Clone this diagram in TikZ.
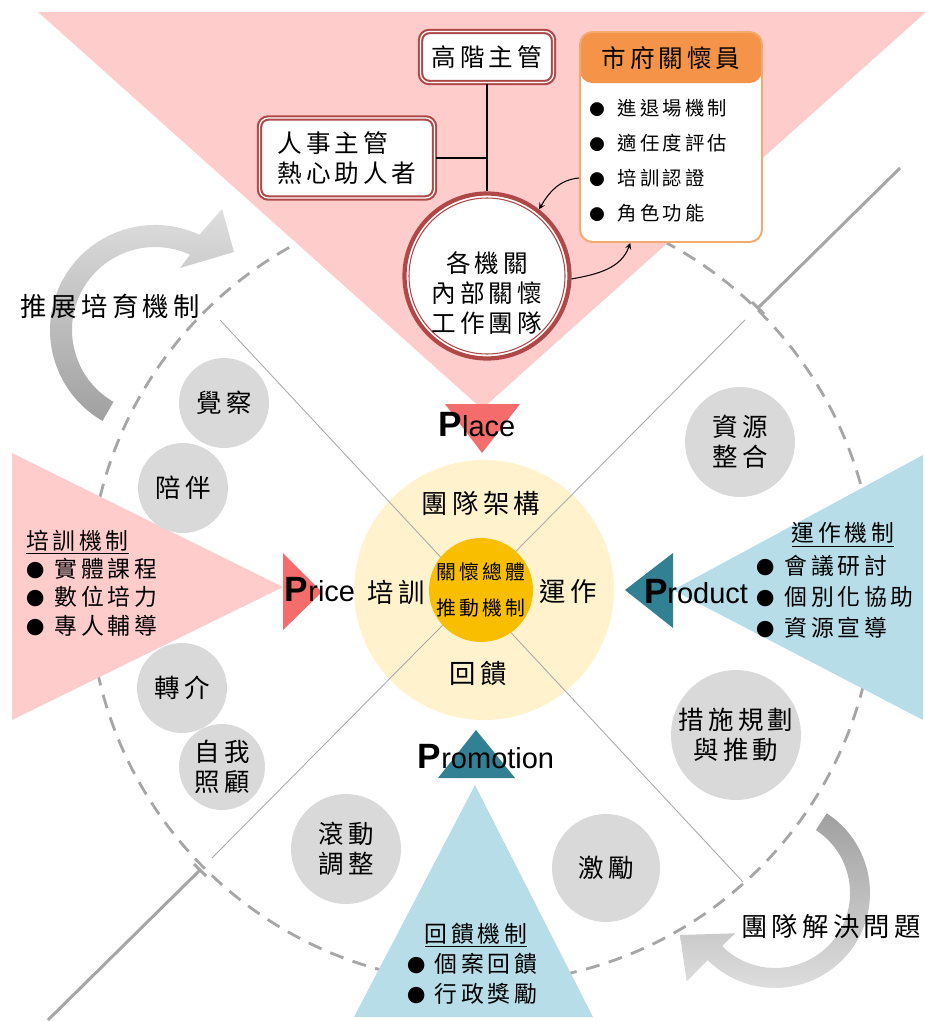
\documentclass[tikz,border=0pt]{standalone}
\usepackage{fontspec}
\setmainfont{Liberation Sans}
\newfontfamily\cjk[LetterSpace=16]{Noto Sans CJK TC}

\definecolor{pinkbg}{RGB}{255,204,204}
\definecolor{placered}{RGB}{244,108,108}
\definecolor{skyblue}{RGB}{183,221,232}
\definecolor{tealdark}{RGB}{49,128,148}
\definecolor{hubyellow}{RGB}{255,242,204}
\definecolor{coregold}{RGB}{250,190,0}
\definecolor{bubgray}{RGB}{217,217,217}
\definecolor{dashgray}{RGB}{166,166,166}
\definecolor{linegray}{RGB}{170,170,170}
\definecolor{boxred}{RGB}{176,72,72}
\definecolor{carehdr}{RGB}{245,148,72}
\definecolor{careline}{RGB}{242,170,110}
\definecolor{arrowdark}{RGB}{160,160,160}
\definecolor{arrowlight}{RGB}{222,222,222}

\newcommand{\Pw}[1]{{\fontsize{20}{20}\selectfont\bfseries P}#1}
\newcommand{\bul}[2][0.45em]{\scalebox{0.8}{●}\hspace{#1}#2}

\tikzset{
  bub/.style={circle, fill=bubgray, inner sep=0pt, align=center, font=\cjk\fontsize{14.5}{17}\selectfont},
  pword/.style={inner sep=0pt, font=\fontsize{16.5}{18}\selectfont},
  cjklab/.style={inner sep=0pt, align=center, font=\cjk\fontsize{15}{17}\selectfont},
  listtxt/.style={inner sep=0pt, align=left, font=\cjk\fontsize{13}{16.2}\selectfont},
  redbox/.style={rectangle, rounded corners=5pt, draw=boxred, double=white, line width=1.2pt, double distance=0.7pt, fill=white, inner sep=0pt, font=\cjk\fontsize{14}{17}\selectfont},
  diag/.style={draw=linegray, line width=0.5pt},
  outline/.style={draw=dashgray, line width=1.7pt},
}

\begin{document}
\begin{tikzpicture}[x=0.02cm, y=-0.02cm]
\useasboundingbox (0,0) rectangle (925,1021);

\draw[dashgray, line width=1.6pt, dash pattern=on 8pt off 5.5pt] (482,590) circle[radius=393];
\shade[top color=arrowlight, bottom color=arrowdark] (102.5,420.9) arc[start angle=120, end angle=295, radius=105] -- (222,209) -- (234,252) -- (180,268) -- (190.1,254.8) arc[start angle=295, end angle=120, radius=83] -- cycle;
\shade[top color=arrowdark, bottom color=arrowlight] (826.7,813.3) arc[start angle=-57, end angle=135, radius=95] -- (686.6,981.4) -- (680,935) -- (735.3,933.3) -- (722,946) arc[start angle=135, end angle=-57, radius=75] -- cycle;

\fill[pinkbg] (38,12) -- (926,12) -- (482,409) -- cycle;
\fill[pinkbg] (12,453) -- (283,587) -- (12,720) -- cycle;
\fill[skyblue] (923,455) -- (673,590) -- (923,720) -- cycle;
\fill[skyblue] (354,1017) -- (475,785) -- (593,1017) -- cycle;
\fill[placered] (445,404) -- (520,404) -- (482,453) -- cycle;
\fill[placered] (283,553) -- (322,592) -- (283,630) -- cycle;
\fill[tealdark] (673,553) -- (625,590) -- (673,628) -- cycle;
\fill[tealdark] (438,778) -- (476,730) -- (515,778) -- cycle;

\node[circle, fill=hubyellow, minimum size=5.2cm] (hub) at (484,590) {};
\draw[diag] (220,320) -- (743,882);
\draw[diag] (745,320) -- (212,858);
\draw[outline] (758,308) -- (900,168);
\draw[outline] (752,302) -- (764,314);
\draw[outline] (200,870) -- (48,1020);
\draw[outline] (194,864) -- (206,876);
\node[circle, fill=coregold, minimum size=1.88cm, inner sep=0pt, align=center, font=\cjk\fontsize{11.3}{20.5}\selectfont] (core) at (481,590) {關懷總體\\推動機制};

\node[cjklab] (frame) at (481,503) {團隊架構};
\node[cjklab] (train) at (396,592) {培訓};
\node[cjklab] (oper) at (568,591) {運作};
\node[cjklab] (feed) at (478,673) {回饋};

\node[pword] (place) at (477,425) {\Pw{lace}};
\node[pword] (price) at (320,590) {\Pw{rice}};
\node[pword] (product) at (696,592) {\Pw{roduct}};
\node[pword] (promo) at (486,757) {\Pw{romotion}};

\node[bub, minimum size=1.8cm] (aware) at (224,403) {覺察};
\node[bub, minimum size=1.8cm] (accomp) at (183,488) {陪伴};
\node[bub, minimum size=1.8cm] (refer) at (182,688) {轉介};
\node[bub, minimum size=1.72cm] (selfcare) at (222,767) {自我\\照顧};
\node[bub, minimum size=2.2cm] (rolling) at (346,849) {滾動\\調整};
\node[bub, minimum size=2.16cm] (reward) at (606,868) {激勵};
\node[bub, minimum size=2.2cm] (resource) at (740,442) {資源\\整合};
\node[bub, minimum size=2.6cm] (measure) at (736,735) {措施規劃\\與推動};

\node[listtxt, anchor=west] (trainlist) at (26,583) {\underline{培訓機制}\\\bul{實體課程}\\\bul{數位培力}\\\bul{專人輔導}};
\node[listtxt] (opstitle) at (843,535) {\underline{運作機制}};
\node[listtxt, anchor=west, font=\cjk\fontsize{13}{17.6}\selectfont] (opslist) at (756,597) {\bul{會議研討}\\\bul{個別化協助}\\\bul{資源宣導}};
\node[listtxt] (fbtitle) at (476,935) {\underline{回饋機制}};
\node[listtxt, anchor=west, font=\cjk\fontsize{13}{17}\selectfont] (fblist) at (407,979) {\bul[0.4em]{個案回饋}\\\bul[0.4em]{行政獎勵}};

\node[cjklab] (grow) at (110,306) {推展培育機制};
\node[cjklab] (solve) at (831,927) {團隊解決問題};

\node[redbox, minimum width=2.66cm, minimum height=1.02cm] (senior) at (487,57) {高階主管};
\node[redbox, minimum width=3.5cm, minimum height=1.6cm, align=left] (hr) at (347,158) {人事主管\\熱心助人者};
\node[circle, draw=boxred, line width=2.4pt, fill=white, minimum size=3.3cm] (team) at (487,276) {};
\draw[boxred, line width=0.6pt] (team.center) circle[radius=78];
\node[cjklab, font=\cjk\fontsize{14}{17}\selectfont] (teamtxt) at (487,293) {各機關\\內部關懷\\工作團隊};
\draw[line width=0.8pt] (senior.south) -- (team.north);
\draw[line width=0.8pt] (hr.east) -- (hr.east -| senior.south);

\node[rectangle, rounded corners=7pt, draw=careline, line width=1.1pt, fill=white, minimum width=3.64cm, minimum height=4.2cm, path picture={\fill[carehdr] (path picture bounding box.north west) rectangle ([yshift=-1.02cm]path picture bounding box.north east);}] (care) at (671,137) {};
\node[inner sep=0pt, font=\cjk\fontsize{14}{17}\selectfont] (careh) at (671,58) {市府關懷員};
\foreach \t [count=\i] in {進退場機制, 適任度評估, 培訓認證, 角色功能}
  \node[anchor=west, inner sep=0pt, font=\cjk\fontsize{11}{13}\selectfont] (item\i) at (589,73+35*\i) {\bul[0.67em]{\t}};

\draw[->, >=stealth, line width=0.6pt] (care.west |- item3.west) to[out=185, in=60] (team.52);
\draw[->, >=stealth, line width=0.6pt] (team.-2) to[out=10, in=-110] (care.-111);
\end{tikzpicture}
\end{document}
